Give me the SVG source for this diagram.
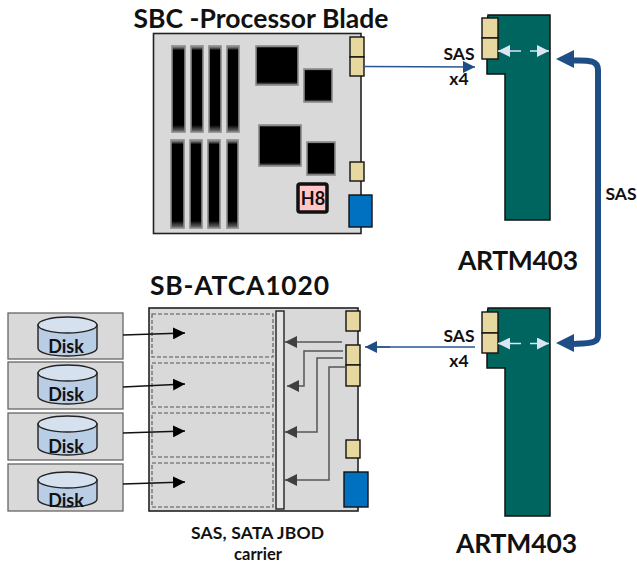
<svg xmlns="http://www.w3.org/2000/svg" width="637" height="565" viewBox="0 0 637 565">
<style>
text{font-family:Lato,"Liberation Sans",sans-serif;font-weight:700;fill:#111;text-anchor:middle}
.t1{font-size:26.5px}.t2{font-size:18px}.t3{font-size:17.5px}.t4{font-size:16.5px}
.board{fill:#d9d9d9;stroke:#222;stroke-width:1.6}
.conn{fill:#e6d89e;stroke:#111;stroke-width:1.4}
.blue{fill:#0070c0;stroke:#111;stroke-width:1.4}
.green{fill:#00655f;stroke:#111;stroke-width:1.5}
.slot{fill:url(#bevel);stroke:#8a8a8a;stroke-width:1.6}
.dash{fill:none;stroke:#555;stroke-width:1.1;stroke-dasharray:4 2}
.dbox{fill:#d9d9d9;stroke:#666;stroke-width:1.3}
.cyl{fill:#b9cde4;stroke:#222;stroke-width:1.4}
.top{fill:#d6e1f0;stroke:#222;stroke-width:1.4}
.k{fill:none;stroke:#111;stroke-width:1.5}
.g{fill:none;stroke:#555;stroke-width:1.5}
.b{fill:none;stroke:#2a5590;stroke-width:1.5}
.w{fill:none;stroke:#dce6f2;stroke-width:1.5}
</style>
<defs>
<linearGradient id="bevel" x1="0" y1="0" x2="0" y2="1">
<stop offset="0" stop-color="#aaa"/><stop offset="0.05" stop-color="#000"/><stop offset="0.92" stop-color="#000"/><stop offset="1" stop-color="#777"/>
</linearGradient>
<marker id="ak" markerUnits="userSpaceOnUse" markerWidth="12" markerHeight="12" refX="12" refY="6" orient="auto"><path d="M0 0L12 6L0 12Z" fill="#000"/></marker>
<marker id="ag" markerUnits="userSpaceOnUse" markerWidth="12" markerHeight="12" refX="12" refY="6" orient="auto"><path d="M0 0L12 6L0 12Z" fill="#404040"/></marker>
<marker id="ab" markerUnits="userSpaceOnUse" markerWidth="12" markerHeight="12" refX="12" refY="6" orient="auto"><path d="M0 0L12 6L0 12Z" fill="#1f4e87"/></marker>
<marker id="aw" markerUnits="userSpaceOnUse" markerWidth="12" markerHeight="12" refX="12" refY="6" orient="auto"><path d="M0 0L12 6L0 12Z" fill="#dce6f2"/></marker>
</defs>
<g id="sbc-blade">
<rect class="board" x="153.500" y="33.500" width="207.500" height="200"/>
<rect class="slot" x="172" y="46" width="13" height="86"/><rect class="slot" x="191" y="46" width="12" height="86"/><rect class="slot" x="209" y="46" width="12" height="86"/><rect class="slot" x="227" y="46" width="12" height="86"/>
<rect class="slot" x="171" y="140" width="13" height="88"/><rect class="slot" x="190" y="140" width="12" height="88"/><rect class="slot" x="208" y="140" width="12" height="88"/><rect class="slot" x="227" y="140" width="11" height="88"/>
<rect class="slot" x="256" y="46" width="42" height="39"/><rect class="slot" x="304" y="69" width="28" height="33"/><rect class="slot" x="259" y="125" width="42" height="41"/><rect class="slot" x="307" y="142" width="28" height="33"/>
<rect class="conn" x="350" y="37" width="14" height="20"/><rect class="conn" x="350" y="57" width="14" height="19"/><rect class="conn" x="350" y="162" width="14" height="19"/>
<rect class="blue" x="349" y="195" width="23" height="32"/>
<rect x="298" y="184" width="29" height="28" rx="2" fill="#ffc7c7" stroke="#111" stroke-width="3.500"/>
<text class="t2" x="313" y="204.500">H8</text>
<text class="t1" x="261" y="28" textLength="255">SBC -Processor Blade</text>
</g>
<g id="jbod-carrier">
<rect class="board" x="149" y="308" width="209" height="203"/>
<rect class="dash" x="152" y="314" width="121" height="43"/><rect class="dash" x="152" y="363" width="121" height="44"/><rect class="dash" x="152" y="413" width="121" height="44"/><rect class="dash" x="152" y="463" width="121" height="44"/>
<rect x="276" y="311" width="8" height="198" fill="#e4e4e4" stroke="#222" stroke-width="1.400"/>
<rect class="conn" x="346" y="311" width="14" height="20"/><rect class="conn" x="346" y="345" width="14" height="20"/><rect class="conn" x="346" y="365" width="14" height="21"/><rect class="conn" x="346" y="440" width="14" height="18"/>
<rect class="blue" x="344" y="472" width="24" height="35"/>
<text class="t1" x="239.500" y="295" textLength="179">SB-ATCA1020</text>
<text class="t3" x="257.500" y="539" textLength="133">SAS, SATA JBOD</text>
<text class="t4" x="258" y="560">carrier</text>
</g>
<g id="disk-1"><rect class="dbox" x="8" y="313" width="115" height="46"/><path class="cyl" d="M38 325V348C38 353 51 356 67 356S97 353 97 348V325Z"/><ellipse class="top" cx="67.500" cy="325" rx="29.500" ry="8"/><text class="t2" x="66" y="353">Disk</text></g>
<g id="disk-2"><rect class="dbox" x="8" y="362" width="115" height="47"/><path class="cyl" d="M38 373V396C38 401 51 404 67 404S97 401 97 396V373Z"/><ellipse class="top" cx="67.500" cy="373" rx="29.500" ry="8"/><text class="t2" x="66" y="401">Disk</text></g>
<g id="disk-3"><rect class="dbox" x="8" y="413" width="115" height="47"/><path class="cyl" d="M38 424V447C38 452 51 455 67 455S97 452 97 447V424Z"/><ellipse class="top" cx="67.500" cy="424" rx="29.500" ry="8"/><text class="t2" x="66" y="453">Disk</text></g>
<g id="disk-4"><rect class="dbox" x="8" y="464" width="115" height="47"/><path class="cyl" d="M38 480V499C38 504 51 507 67 507S97 504 97 499V480Z"/><ellipse class="top" cx="67.500" cy="480" rx="29.500" ry="8"/><text class="t2" x="66" y="507">Disk</text></g>
<g id="artm-top">
<path class="green" d="M488 15H550V220H505V74H487V22Z"/>
<rect class="conn" x="482" y="18" width="16" height="20"/><rect class="conn" x="482" y="38" width="16" height="21"/>
<text class="t1" x="518" y="270" textLength="120">ARTM403</text>
</g>
<g id="artm-bottom">
<path class="green" d="M488 308H550V516H505V368H487V315Z"/>
<rect class="conn" x="482" y="312" width="16" height="21"/><rect class="conn" x="482" y="333" width="16" height="20"/>
<text class="t1" x="516.500" y="553" textLength="121">ARTM403</text>
</g>
<g id="connectors">
<path class="b" d="M364 66.500L475 67" marker-end="url(#ab)"/>
<path class="b" d="M475 347H376"/><path class="b" d="M390 347H365" marker-end="url(#ab)"/>
<path class="w" d="M521 51H498" marker-end="url(#aw)"/><path class="w" d="M530 51H549" marker-end="url(#aw)"/>
<path class="w" d="M521 343.500H498" marker-end="url(#aw)"/><path class="w" d="M530 343.500H549" marker-end="url(#aw)"/>
<path d="M574 60.500C590 60 598 61 598 70V336C598 343 590 343 574 344" fill="none" stroke="#1f4e87" stroke-width="6"/>
<path d="M556 59L574 50V68Z" fill="#1f4e87"/><path d="M556 343L574 334V352Z" fill="#1f4e87"/>
<path class="k" d="M123 335L185 333" marker-end="url(#ak)"/><path class="k" d="M123 387L185 384" marker-end="url(#ak)"/><path class="k" d="M123 433L185 431" marker-end="url(#ak)"/><path class="k" d="M123 484L185 482" marker-end="url(#ak)"/>
<path class="g" d="M342 342H285" marker-end="url(#ag)"/>
<path class="g" d="M343 351H304V386H287" marker-end="url(#ag)"/>
<path class="g" d="M343 358H317V432H285" marker-end="url(#ag)"/>
<path class="g" d="M345 367H329V480H285" marker-end="url(#ag)"/>
</g>
<g id="labels">
<text class="t3" x="459" y="60">SAS</text><text class="t3" x="459" y="85">x4</text>
<text class="t3" x="459" y="342">SAS</text><text class="t3" x="459" y="367">x4</text>
<text class="t3" x="621" y="200">SAS</text>
</g>
</svg>
